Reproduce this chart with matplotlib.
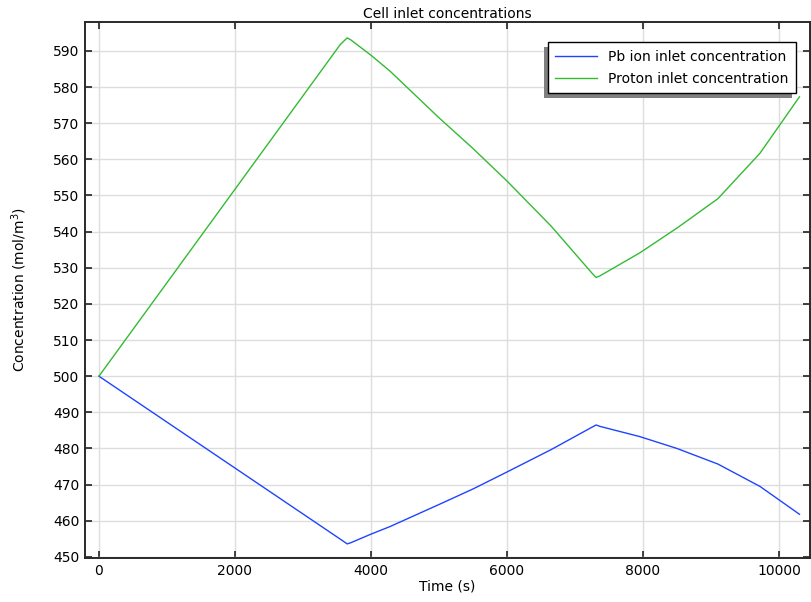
import matplotlib
matplotlib.use("Agg")
import matplotlib.pyplot as plt
from matplotlib.patches import Rectangle

time_s = [0, 3550, 3650, 3700, 4000, 4280, 5000, 5500, 6000, 6650, 7250, 7310,
          7370, 7950, 8500, 9100, 9720, 10300]
pb_ion = [500.0, 454.9, 453.6, 453.9, 456.3, 458.4, 464.5, 468.8, 473.5, 479.7,
          485.9, 486.5, 486.1, 483.3, 480.0, 475.7, 469.5, 461.8]
proton = [500.0, 591.8, 593.6, 593.1, 588.8, 584.4, 571.5, 563.0, 554.0, 541.5,
          528.5, 527.3, 527.8, 534.1, 541.0, 549.1, 561.7, 577.3]
series_labels = ["Pb ion inlet concentration", "Proton inlet concentration"]
xticks = [0, 2000, 4000, 6000, 8000, 10000]
yticks = list(range(450, 591, 10))

plt.rcParams['font.family'] = ['DejaVu Sans']
plt.rcParams['font.size'] = 10

fig = plt.figure(figsize=(8.11, 6.02), dpi=100)
ax = fig.add_axes([85/811, 1 - 558/602, (810 - 85)/811, (558 - 22)/602])

ax.plot(time_s, pb_ion, color='#1f44ff', lw=1.0, label=series_labels[0])
ax.plot(time_s, proton, color='#33bb33', lw=1.0, label=series_labels[1])

ax.set_xlim(-205, 10455)
ax.set_ylim(449.7, 598.0)
ax.set_xticks(xticks)
ax.set_yticks(yticks)
ax.grid(True, color='#dddddd', lw=1.0)
ax.set_axisbelow(True)
ax.tick_params(direction='in', top=True, right=True, length=5, width=1.2,
               color='#222222', labelsize=10, pad=4)
for s in ax.spines.values():
    s.set_linewidth(1.4)
    s.set_color('#2a2a2a')

ax.set_title("Cell inlet concentrations", fontsize=10, pad=3)
ax.set_xlabel("Time (s)", fontsize=10, labelpad=1.5)
ax.set_ylabel("Concentration (mol/m$^3$)", fontsize=10, labelpad=17)

leg = ax.legend(loc='upper right', bbox_to_anchor=(0.981, 0.963), fancybox=False,
                framealpha=1, edgecolor='black', fontsize=10, borderaxespad=0,
                handlelength=3.0, borderpad=0.56, labelspacing=0.57)
leg.get_frame().set_linewidth(1.0)
leg.set_zorder(10)

fig.canvas.draw()
bb = leg.get_window_extent()
inv = fig.transFigure.inverted()
(x0, y0), (x1, y1) = inv.transform([(bb.x0 - 4, bb.y0 - 5), (bb.x1 - 4, bb.y1 - 5)])
ax.add_patch(Rectangle((x0, y0), x1 - x0, y1 - y0, transform=fig.transFigure,
                       facecolor='#7f7f7f', edgecolor='none', zorder=9, clip_on=False))

fig.savefig("out.png", dpi=100)
